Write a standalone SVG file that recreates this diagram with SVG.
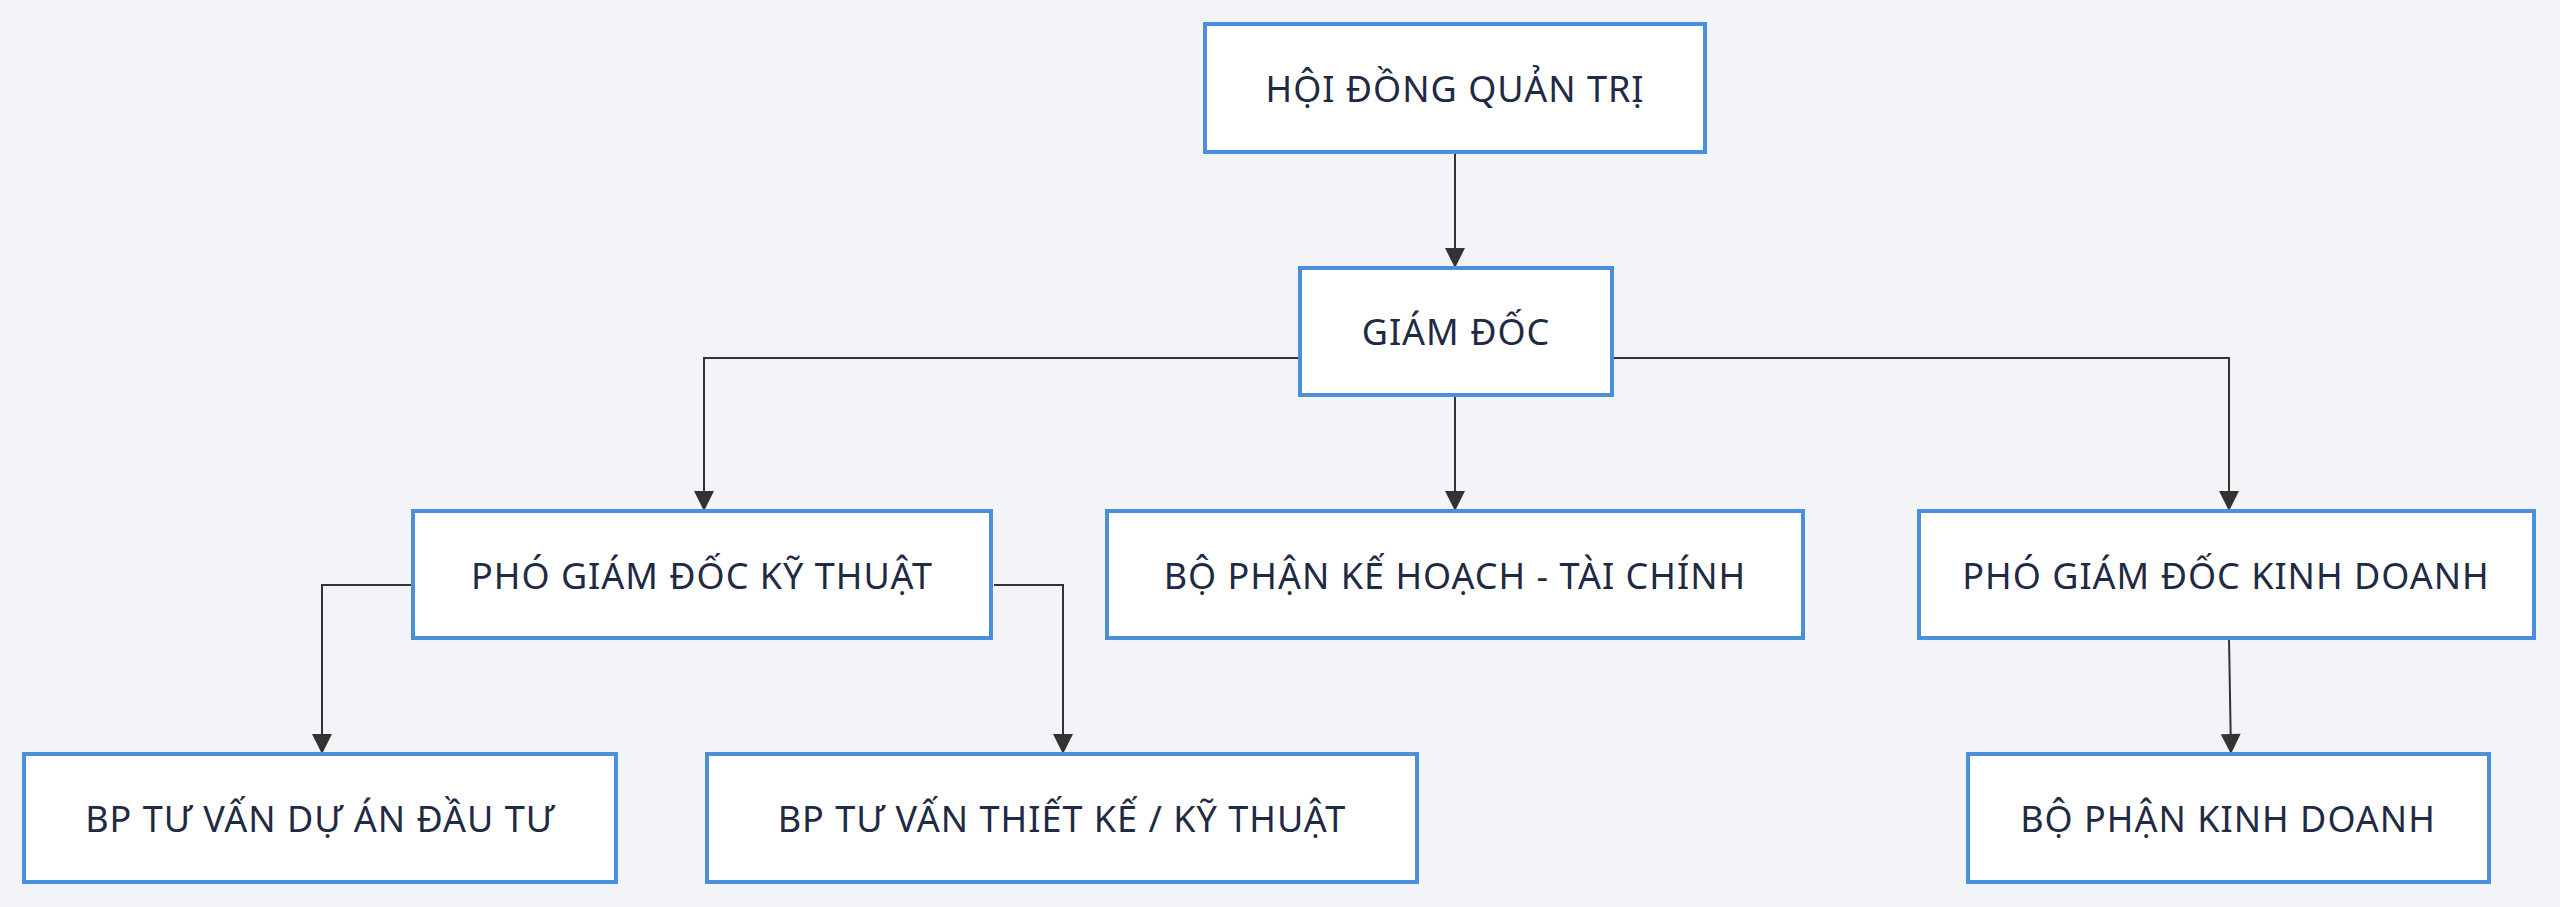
<svg xmlns="http://www.w3.org/2000/svg" width="2560" height="907" viewBox="0 0 2560 907">
<style>
.b{fill:#fff;stroke:#4a8fdb;stroke-width:4}
.t{font-family:"Noto Sans","DejaVu Sans",sans-serif;font-size:36px;letter-spacing:1px;fill:#1f2a44;text-anchor:middle;dominant-baseline:central}
.c{fill:none;stroke:#333;stroke-width:2}
</style>
<defs><marker id="m" viewBox="0 0 10 10" refX="10" refY="5" markerWidth="22" markerHeight="20" markerUnits="userSpaceOnUse" orient="auto"><path d="M0,0L10,5L0,10z" fill="#333"/></marker></defs>
<rect width="2560" height="907" fill="#f3f4f8"/>
<g id="connectors">
<path class="c" marker-end="url(#m)" d="M1455,152V268"/>
<path class="c" marker-end="url(#m)" d="M1300,358H704V511"/>
<path class="c" marker-end="url(#m)" d="M1612,358H2229V511"/>
<path class="c" marker-end="url(#m)" d="M1455,395V511"/>
<path class="c" marker-end="url(#m)" d="M418,585H322V754"/>
<path class="c" marker-end="url(#m)" d="M994,585H1063V754"/>
<path class="c" marker-end="url(#m)" d="M2229,638L2231,754"/>
</g>
<g id="hdqt"><rect class="b" x="1205" y="24" width="500" height="128"/><text class="t" x="1455" y="88">HỘI ĐỒNG QUẢN TRỊ</text></g>
<g id="gd"><rect class="b" x="1300" y="268" width="312" height="127"/><text class="t" x="1456" y="331">GIÁM ĐỐC</text></g>
<g id="pgdkt"><rect class="b" x="413" y="511" width="578" height="127"/><text class="t" x="702" y="575">PHÓ GIÁM ĐỐC KỸ THUẬT</text></g>
<g id="khtc"><rect class="b" x="1107" y="511" width="696" height="127"/><text class="t" x="1455" y="575">BỘ PHẬN KẾ HOẠCH - TÀI CHÍNH</text></g>
<g id="pgdkd"><rect class="b" x="1919" y="511" width="615" height="127"/><text class="t" x="2226" y="575">PHÓ GIÁM ĐỐC KINH DOANH</text></g>
<g id="tvda"><rect class="b" x="24" y="754" width="592" height="128"/><text class="t" x="320" y="818">BP TƯ VẤN DỰ ÁN ĐẦU TƯ</text></g>
<g id="tvtk"><rect class="b" x="707" y="754" width="710" height="128"/><text class="t" x="1062" y="818">BP TƯ VẤN THIẾT KẾ / KỸ THUẬT</text></g>
<g id="kd"><rect class="b" x="1968" y="754" width="521" height="128"/><text class="t" x="2228" y="818">BỘ PHẬN KINH DOANH</text></g>
</svg>
